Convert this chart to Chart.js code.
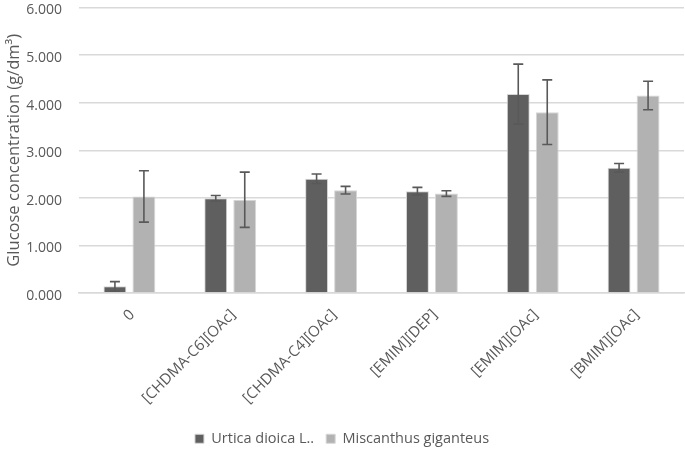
<!DOCTYPE html>
<html>
<head>
<meta charset="utf-8">
<script src="https://cdn.jsdelivr.net/npm/chart.js@4/dist/chart.umd.min.js"></script>
<style>
html,body{margin:0;padding:0;background:#fff;}
#wrap{width:685px;height:453px;position:relative;}
</style>
</head>
<body>
<div id="wrap"><canvas id="c" width="685" height="453"></canvas></div>
<script>
const categories = ["0", "[CHDMA-C6][OAc]", "[CHDMA-C4][OAc]", "[EMIM][DEP]", "[EMIM][OAc]", "[BMIM][OAc]"];
const urticaValues = [0.14, 1.99, 2.40, 2.14, 4.18, 2.63];
const urticaErrors = [0.10, 0.06, 0.10, 0.08, 0.63, 0.09];
const miscanthusValues = [2.03, 1.96, 2.16, 2.09, 3.80, 4.15];
const miscanthusErrors = [0.54, 0.58, 0.08, 0.06, 0.68, 0.30];
const seriesNames = ["Urtica dioica L..", "Miscanthus giganteus"];
const yTicks = [0, 1, 2, 3, 4, 5, 6];

const FONT = "'Open Sans', 'Liberation Sans', sans-serif";

const errorBars = {
  id: 'errorBars',
  afterDatasetsDraw(chart) {
    const ctx = chart.ctx;
    const y = chart.scales.y;
    chart.data.datasets.forEach((ds, di) => {
      const meta = chart.getDatasetMeta(di);
      meta.data.forEach((bar, i) => {
        const v = ds.data[i], e = ds.errors[i];
        const top = y.getPixelForValue(v + e);
        const bot = y.getPixelForValue(Math.max(0, v - e));
        const x = bar.x;
        ctx.save();
        ctx.strokeStyle = '#595959';
        ctx.lineWidth = 1.6;
        ctx.beginPath();
        ctx.moveTo(x, top); ctx.lineTo(x, bot);
        ctx.moveTo(x - 5, top); ctx.lineTo(x + 5, top);
        ctx.moveTo(x - 5, bot); ctx.lineTo(x + 5, bot);
        ctx.stroke();
        ctx.restore();
      });
    });
  }
};

new Chart(document.getElementById('c'), {
  type: 'bar',
  data: {
    labels: categories,
    datasets: [
      { label: seriesNames[0], data: urticaValues, errors: urticaErrors,
        backgroundColor: '#5f5f5f', borderColor: '#d6d6d6', borderWidth: 1,
        categoryPercentage: 0.575, barPercentage: 0.79 },
      { label: seriesNames[1], data: miscanthusValues, errors: miscanthusErrors,
        backgroundColor: '#b2b2b2', borderColor: '#d6d6d6', borderWidth: 1,
        categoryPercentage: 0.575, barPercentage: 0.79 }
    ]
  },
  options: {
    responsive: false,
    animation: false,
    devicePixelRatio: 1,
    layout: { padding: { top: 0, right: 1, left: 0, bottom: -3 } },
    plugins: {
      legend: {
        position: 'bottom',
        labels: {
          boxWidth: 9, boxHeight: 9, color: '#595959',
          font: { family: FONT, size: 14.5 }, padding: 12
        }
      },
      tooltip: { enabled: false }
    },
    scales: {
      x: {
        afterFit(axis) { axis.height = 126.5; axis.paddingLeft = 0; axis.paddingRight = 0; },
        grid: { display: false, drawTicks: false },
        border: { color: '#d9d9d9', width: 1.5 },
        ticks: {
          color: '#595959', font: { family: FONT, size: 15 },
          minRotation: 45, maxRotation: 45, padding: 13, labelOffset: 3
        }
      },
      y: {
        min: 0, max: 6,
        afterBuildTicks(axis) { axis.ticks = yTicks.map(v => ({ value: v })); },
        afterFit(axis) { axis.width = 79; axis.paddingTop = 7.5; axis.paddingBottom = 0; },
        grid: { color: '#d9d9d9', lineWidth: 1.5, drawTicks: false },
        border: { display: false },
        ticks: {
          color: '#595959', font: { family: FONT, size: 14 }, padding: 17, labelOffset: 3,
          callback: v => Number(v).toFixed(3)
        },
        title: {
          display: true, text: 'Glucose concentration (g/dm³)',
          color: '#595959', font: { family: FONT, size: 16.5 }, padding: { top: 4, bottom: 0 }
        }
      }
    }
  },
  plugins: [errorBars]
});
</script>
</body>
</html>
